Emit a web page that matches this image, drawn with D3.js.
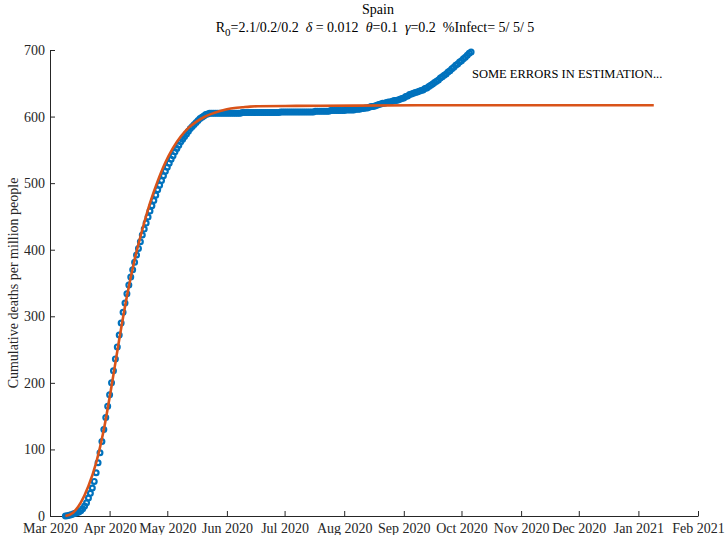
<!DOCTYPE html>
<html><head><meta charset="utf-8">
<script src="https://cdn.jsdelivr.net/npm/d3@7"></script>
<style>body{margin:0;background:#fff}svg{font-family:"Liberation Serif",serif}text{white-space:pre}</style>
</head><body><svg width="727" height="535"></svg>
<script>
// observed cumulative deaths per million, daily from 2020-03-09
const obsVals = [0,0.5,1,2,3,4,5,6,8,11,15,20,27,34,42,52,65,80,95,112,130,148,165,182,200,218,236,254,272,290,
  306,320,334,347,359,370,381,392,402,412,422,431,440,449,458,466,474,482,490,497,504,511,518,524,530,536,541,547,552,557,
  562,566,570,574,578,582,585,588,591,594,597,599,601,603,604,605,
  605,605,605,605,605,605,605,605,605,605,605,605,605,605,605,605,606,606,606,606,606,606,606,606,606,606,606,606,606,606,
  606,606,606,606,606,606,607,607,607,607,607,607,607,607,607,607,607,607,607,607,607,607,607,607,608,608,608,608,608,608,
  608,608,609,609,609,609,609,609,609,609,610,610,610,610,610,611,611,611,612,612,613,613,614,615,615,616,617,618,619,620,
  620,621,622,622,623,624,624,625,626,627,628,630,631,633,634,635,636,637,638,639,640,642,643,645,647,649,651,653,655,658,
  660,662,664,667,669,672,674,677,679,682,684,687,689,692,695,697];
const obsDays = d3.range(obsVals.length);
// fitted model
const fitDays = [0,4,8,12,16,20,24,28,32,36,40,44,48,52,56,60,64,68,72,76,80,84,88,92,96,100,120,150,200,306];
const fitVals = [0,5,20,45,80,130,195,265,330,385,430,470,503,531,553,570,583,592,599,604,608,611,613,614,615,615.5,616,616.5,617,617];
const tickLabels = ["Mar 2020","Apr 2020","May 2020","Jun 2020","Jul 2020","Aug 2020","Sep 2020","Oct 2020","Nov 2020","Dec 2020","Jan 2021","Feb 2021"];
const yTicks = [0,100,200,300,400,500,600,700];

const start = new Date(2020,2,9);
const day = d => d3.timeDay.offset(start, d);
const svg = d3.select("svg");
const x = d3.scaleTime().domain([new Date(2020,2,1), new Date(2021,1,1)]).range([50,698]);
const y = d3.scaleLinear().domain([0,700]).range([516,50]);

const tickDates = tickLabels.map((t,i) => new Date(2020, 2 + i, 1));
const xa = svg.append("g").attr("transform","translate(0,516)")
  .call(d3.axisBottom(x).tickValues(tickDates).tickSizeInner(-5).tickSizeOuter(0).tickPadding(7)
    .tickFormat((d,i) => tickLabels[i]));
const ya = svg.append("g").attr("transform","translate(50,0)")
  .call(d3.axisLeft(y).tickValues(yTicks).tickSizeInner(-5).tickSizeOuter(0).tickPadding(5));
[xa, ya].forEach(g => {
  g.selectAll("text").attr("font-family","Liberation Serif").attr("font-size",14).attr("fill","#262626");
  g.selectAll("line,path").attr("stroke","#262626");
});

svg.append("g").selectAll("circle").data(obsDays).join("circle")
  .attr("cx", (d) => x(day(d))).attr("cy", (d,i) => y(obsVals[i])).attr("r",2.4)
  .attr("fill","none").attr("stroke","#0072BD").attr("stroke-width",2.2);

svg.append("path").datum(fitDays)
  .attr("d", d3.line().x(d => x(day(d))).y((d,i) => y(fitVals[i])).curve(d3.curveMonotoneX))
  .attr("fill","none").attr("stroke","#D95319").attr("stroke-width",2.6);

svg.append("text").attr("x",378).attr("y",14).attr("text-anchor","middle").attr("font-size",14).text("Spain");
const t = svg.append("text").attr("x",375).attr("y",32).attr("text-anchor","middle").attr("font-size",14).attr("fill","#000");
t.append("tspan").text("R");
t.append("tspan").attr("dy",4).attr("font-size",11).text("0");
t.append("tspan").attr("dy",-4).text("=2.1/0.2/0.2  ");
t.append("tspan").attr("font-style","italic").text("δ");
t.append("tspan").text(" = 0.012  ");
t.append("tspan").attr("font-style","italic").text("θ");
t.append("tspan").text("=0.1  ");
t.append("tspan").attr("font-style","italic").text("γ");
t.append("tspan").text("=0.2  %Infect= 5/ 5/ 5");

svg.append("text").attr("x",472).attr("y",78).attr("font-size",12.5).text("SOME ERRORS IN ESTIMATION...");
svg.append("text").attr("transform","translate(18,283) rotate(-90)").attr("text-anchor","middle")
  .attr("font-size",14).attr("fill","#262626").text("Cumulative deaths per million people");
</script></body></html>
